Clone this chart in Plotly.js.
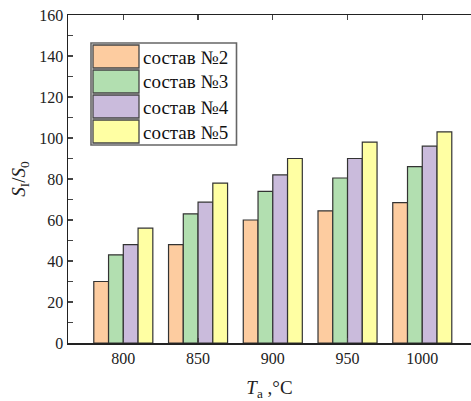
<!DOCTYPE html>
<html>
<head>
<meta charset="utf-8">
<script src="https://cdn.plot.ly/plotly-3.0.1.min.js"></script>
<style>html,body{margin:0;padding:0;background:#fff;}#chart{width:471px;height:401px;}</style>
</head>
<body>
<div id="chart"></div>
<script>
// Data
var temperatures = [800, 850, 900, 950, 1000];
var seriesNames = ["состав №2", "состав №3", "состав №4", "состав №5"];
var sostav2 = [30, 48, 60, 64.5, 68.5];
var sostav3 = [43, 63, 74, 80.5, 86];
var sostav4 = [48, 68.7, 82, 90, 96];
var sostav5 = [56, 78, 90, 98, 103];
var seriesValues = [sostav2, sostav3, sostav4, sostav5];
var colors = ["#FDCCA0", "#B2DFB0", "#CABBDC", "#FFFFA3"];

var FONT = "Times New Roman";
var W = 471, H = 401, mL = 68, mR = 0, mT = 15, mB = 58;
var pw = W - mL - mR, ph = H - mT - mB;
function px2x(p) { return (p - mL) / pw; }
function px2y(p) { return (H - mB - p) / ph; }

var traces = seriesValues.map(function (vals, i) {
  return {
    type: "bar",
    x: temperatures,
    y: vals,
    name: seriesNames[i],
    marker: { color: colors[i], line: { color: "#333333", width: 1.2 } },
    showlegend: false,
    hoverinfo: "x+y"
  };
});

// Manual legend (large swatches like the reference)
var shapes = [];
var annotations = [];
shapes.push({
  type: "rect", xref: "paper", yref: "paper",
  x0: px2x(91), x1: px2x(236.5), y0: px2y(145), y1: px2y(43),
  line: { color: "#666666", width: 1.6 }, fillcolor: "#ffffff", layer: "above"
});
var rowTop = 45, rowH = 25, swH = 23;
seriesNames.forEach(function (name, i) {
  var t = rowTop + i * rowH;
  shapes.push({
    type: "rect", xref: "paper", yref: "paper",
    x0: px2x(93), x1: px2x(139), y0: px2y(t + swH), y1: px2y(t),
    line: { color: "#444444", width: 1.3 }, fillcolor: colors[i], layer: "above"
  });
  annotations.push({
    xref: "paper", yref: "paper", x: px2x(141), y: px2y(t + swH / 2 + 0.5),
    xanchor: "left", yanchor: "middle", showarrow: false, text: name,
    font: { family: FONT, size: 19, color: "#111111" }
  });
});

var layout = {
  width: W, height: H,
  margin: { l: mL, r: mR, t: mT, b: mB, pad: 0 },
  paper_bgcolor: "#ffffff", plot_bgcolor: "#ffffff",
  barmode: "group", bargap: 0.21, bargroupgap: 0,
  font: { family: FONT, size: 16, color: "#222222" },
  xaxis: {
    range: [763, 1032.6],
    tickvals: temperatures,
    ticktext: temperatures.map(String),
    ticks: "inside", ticklen: 5, tickwidth: 1.2, tickcolor: "#444444",
    showline: true, linecolor: "#222222", linewidth: 1.5,
    mirror: "ticks", showgrid: false, zeroline: false,
    tickfont: { family: FONT, size: 16, color: "#222222" },
    title: { text: "<i>T</i><sub>a</sub> ,°C", font: { family: FONT, size: 19, color: "#222222" }, standoff: 16 }
  },
  yaxis: {
    range: [0, 160],
    tickvals: [0, 20, 40, 60, 80, 100, 120, 140, 160],
    ticks: "inside", ticklen: 5, tickwidth: 1.2, tickcolor: "#444444",
    minor: { dtick: 10, ticks: "inside", ticklen: 5, tickwidth: 1.2, tickcolor: "#444444" },
    showline: true, linecolor: "#222222", linewidth: 1.5,
    mirror: false, showgrid: false, zeroline: false,
    tickfont: { family: FONT, size: 16, color: "#222222" },
    title: { text: "<i>S</i><sub>I</sub>/<i>S</i><sub>0</sub>", font: { family: FONT, size: 19, color: "#222222" }, standoff: 8 }
  },
  shapes: shapes,
  annotations: annotations
};

Plotly.newPlot("chart", traces, layout, { displayModeBar: false, staticPlot: true });
</script>
</body>
</html>
